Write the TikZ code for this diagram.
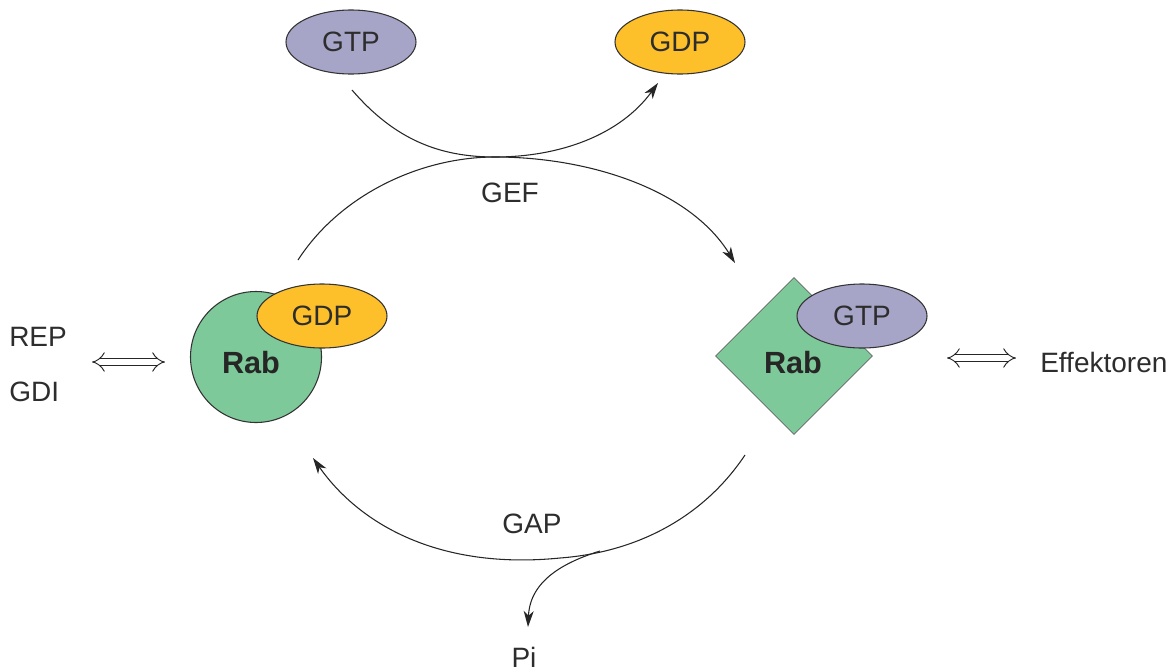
\documentclass[tikz,border=0pt]{standalone}
\usepackage{fontspec}
\setmainfont{Liberation Sans}
\usetikzlibrary{arrows.meta,shapes.geometric}
\definecolor{gtpc}{RGB}{166,165,200}
\definecolor{gdpc}{RGB}{253,192,42}
\definecolor{rabc}{RGB}{126,201,154}
\definecolor{txt}{RGB}{45,45,45}
\tikzset{
  lbl/.style={font=\fontsize{21}{24}\selectfont, text=txt, inner sep=0pt},
  rablbl/.style={font=\fontsize{23}{26}\selectfont\bfseries, text=black!85, inner sep=0pt},
  nuc/.style={ellipse, draw=black!80, line width=0.8pt, minimum width=130*0.75pt, minimum height=64*0.75pt, inner sep=0pt, font=\fontsize{21}{24}\selectfont, text=txt},
  conn/.style={draw=black!85, line width=0.8pt},
  tip/.style={-{Stealth[length=12pt,width=7.5pt,inset=3.5pt]}},
  dbl/.style={double=white, double distance=4.5pt, line width=0.7pt, draw=black!85, {Implies[length=7pt]}-{Implies[length=7pt]}}
}
\begin{document}
\begin{tikzpicture}[x=0.75pt,y=-0.75pt]
\useasboundingbox (0,0) rectangle (1173,671);
% top nucleotides
\node[nuc, fill=gtpc] (gtpTop) at (351,42) {GTP};
\node[nuc, fill=gdpc] (gdpTop) at (680,42) {GDP};
% left Rab-GDP
\node[circle, fill=rabc, draw=black!80, line width=0.8pt, minimum size=131*0.75pt, inner sep=0pt] (rabL) at (256,357) {};
\node[nuc, fill=gdpc] (gdpL) at (322,316) {GDP};
\node[rablbl] (rabLt) at (251,363) {Rab};
% right Rab-GTP
\node[diamond, aspect=1, fill=rabc, draw=black!60, line width=0.6pt, minimum size=157*0.75pt, inner sep=0pt] (rabR) at (794,356) {};
\node[nuc, fill=gtpc] (gtpR) at (862,316) {GTP};
\node[rablbl] (rabRt) at (793,363) {Rab};
% side labels
\node[lbl, anchor=west] (rep) at (9,337) {REP};
\node[lbl, anchor=west] (gdi) at (9,392) {GDI};
\node[lbl, anchor=west] (eff) at (1040,362) {Effektoren};
\coordinate (dlA) at (92,362);
\coordinate (dlB) at (165,362);
\coordinate (drA) at (947,358);
\coordinate (drB) at (1016,358);
\draw[dbl] (dlA) -- (dlB);
\draw[dbl] (drA) -- (drB);
% GEF exchange
\coordinate (gtpOut) at (352,90);
\coordinate (gdpIn) at (658,83);
\coordinate (cross) at (495,157);
\coordinate (gefS) at (298,260);
\coordinate (gefE) at (735,263);
\node[lbl] (gef) at (510,193) {GEF};
\draw[conn, tip] (gtpOut) .. controls (395,140) and (440,157) .. (cross)
  .. controls (560,157) and (620,135) .. (gdpIn);
\draw[conn, tip] (gefS) .. controls (340,195) and (420,157) .. (cross)
  .. controls (590,157) and (690,190) .. (gefE);
% GAP hydrolysis
\coordinate (gapS) at (745,455);
\coordinate (gapB) at (560,558);
\coordinate (gapE) at (313,458);
\coordinate (br) at (600,551);
\node[lbl] (gap) at (532,524) {GAP};
\node[lbl] (pi) at (524,657) {Pi};
\draw[conn, tip] (gapS) .. controls (705,515) and (640,552) .. (gapB)
  .. controls (440,570) and (360,525) .. (gapE);
\draw[conn, tip] (br) .. controls (565,562) and (530,580) .. (528,627);
\end{tikzpicture}
\end{document}
